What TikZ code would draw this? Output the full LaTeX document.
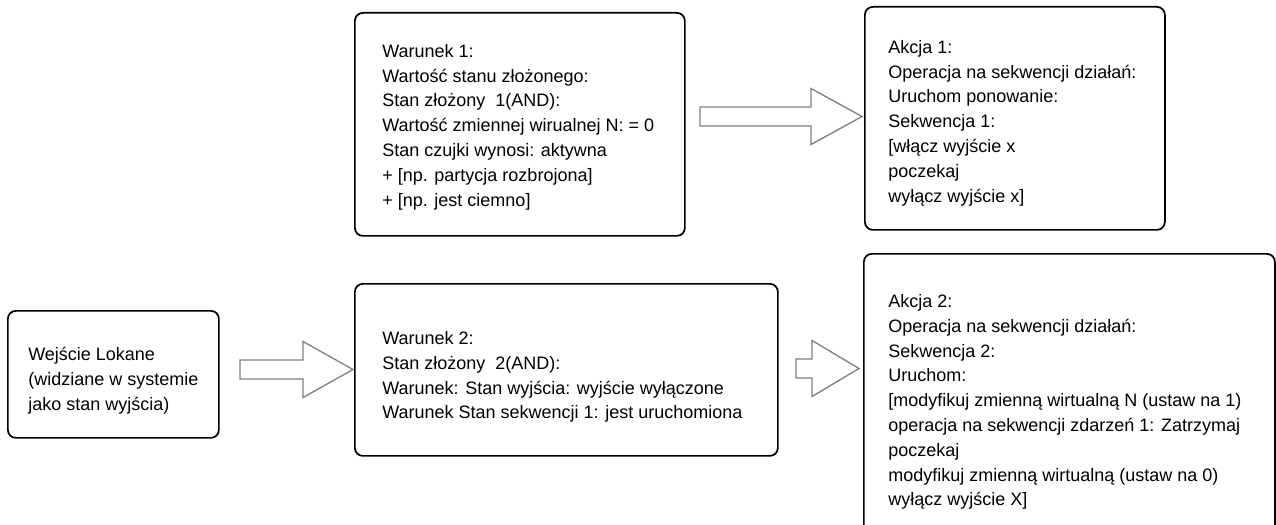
\documentclass[tikz,border=0pt]{standalone}
\usepackage{fontspec}
\setmainfont{Liberation Sans}
\begin{document}
\begin{tikzpicture}[x=0.75pt,y=-0.75pt,
  box/.style={draw=black, line width=1.3pt, rounded corners=6pt, fill=white, anchor=north west, inner sep=0pt},
  txt/.style={font=\fontsize{13.5pt}{18.6pt}\selectfont, align=left, inner sep=0pt, anchor=west},
  blockarrow/.style={draw=black!50, line width=1pt, fill=white, line join=miter}]
\clip (0,0) rectangle (1276,524);
\useasboundingbox (0,0) rectangle (1276,524);
\newcommand{\blockarr}[4]{%
  \draw[blockarrow] (#1,#4-9.5) -- (#2,#4-9.5) -- (#2,#4-28) -- (#3,#4) -- (#2,#4+28) -- (#2,#4+9.5) -- (#1,#4+9.5) -- cycle;}
% boxes
\node[box, minimum width={330*0.75pt}, minimum height={223*0.75pt}] (b1) at (354,12) {};
\node[box, minimum width={300*0.75pt}, minimum height={223*0.75pt}] (b2) at (864,6) {};
\node[box, minimum width={211*0.75pt}, minimum height={127*0.75pt}] (b3) at (7,310) {};
\node[box, minimum width={423*0.75pt}, minimum height={172*0.75pt}] (b4) at (354,283) {};
\node[box, minimum width={411*0.75pt}, minimum height={280*0.75pt}] (b5) at (863,253) {};
% texts
\node[txt] (t1) at (382,127) {Warunek 1:\\Wartość stanu złożonego:\\Stan złożony~ 1(AND):\\Wartość zmiennej wirualnej N: = 0\\Stan czujki wynosi: aktywna\\+ [np. partycja rozbrojona]\\+ [np. jest ciemno]};
\node[txt] (t2) at (888,123) {Akcja 1:\\Operacja na sekwencji działań:\\Uruchom ponowanie:\\Sekwencja 1:\\{[}włącz wyjście x\\poczekaj\\wyłącz wyjście x]};
\node[txt] (t3) at (28,381) {Wejście Lokane\\(widziane w systemie\\jako stan wyjścia)};
\node[txt] (t4) at (382,377) {Warunek 2:\\Stan złożony~ 2(AND):\\Warunek: Stan wyjścia: wyjście wyłączone\\Warunek Stan sekwencji 1: jest uruchomiona};
\node[txt] (t5) at (888,402) {Akcja 2:\\Operacja na sekwencji działań:\\Sekwencja 2:\\Uruchom:\\{[}modyfikuj zmienną wirtualną N (ustaw na 1)\\operacja na sekwencji zdarzeń 1: Zatrzymaj\\poczekaj\\modyfikuj zmienną wirtualną (ustaw na 0)\\wyłącz wyjście X]};
% block arrows
\blockarr{700}{811}{862}{116.5}
\blockarr{240}{303}{353}{369.5}
\blockarr{796}{812}{859}{368.5}
\end{tikzpicture}
\end{document}
